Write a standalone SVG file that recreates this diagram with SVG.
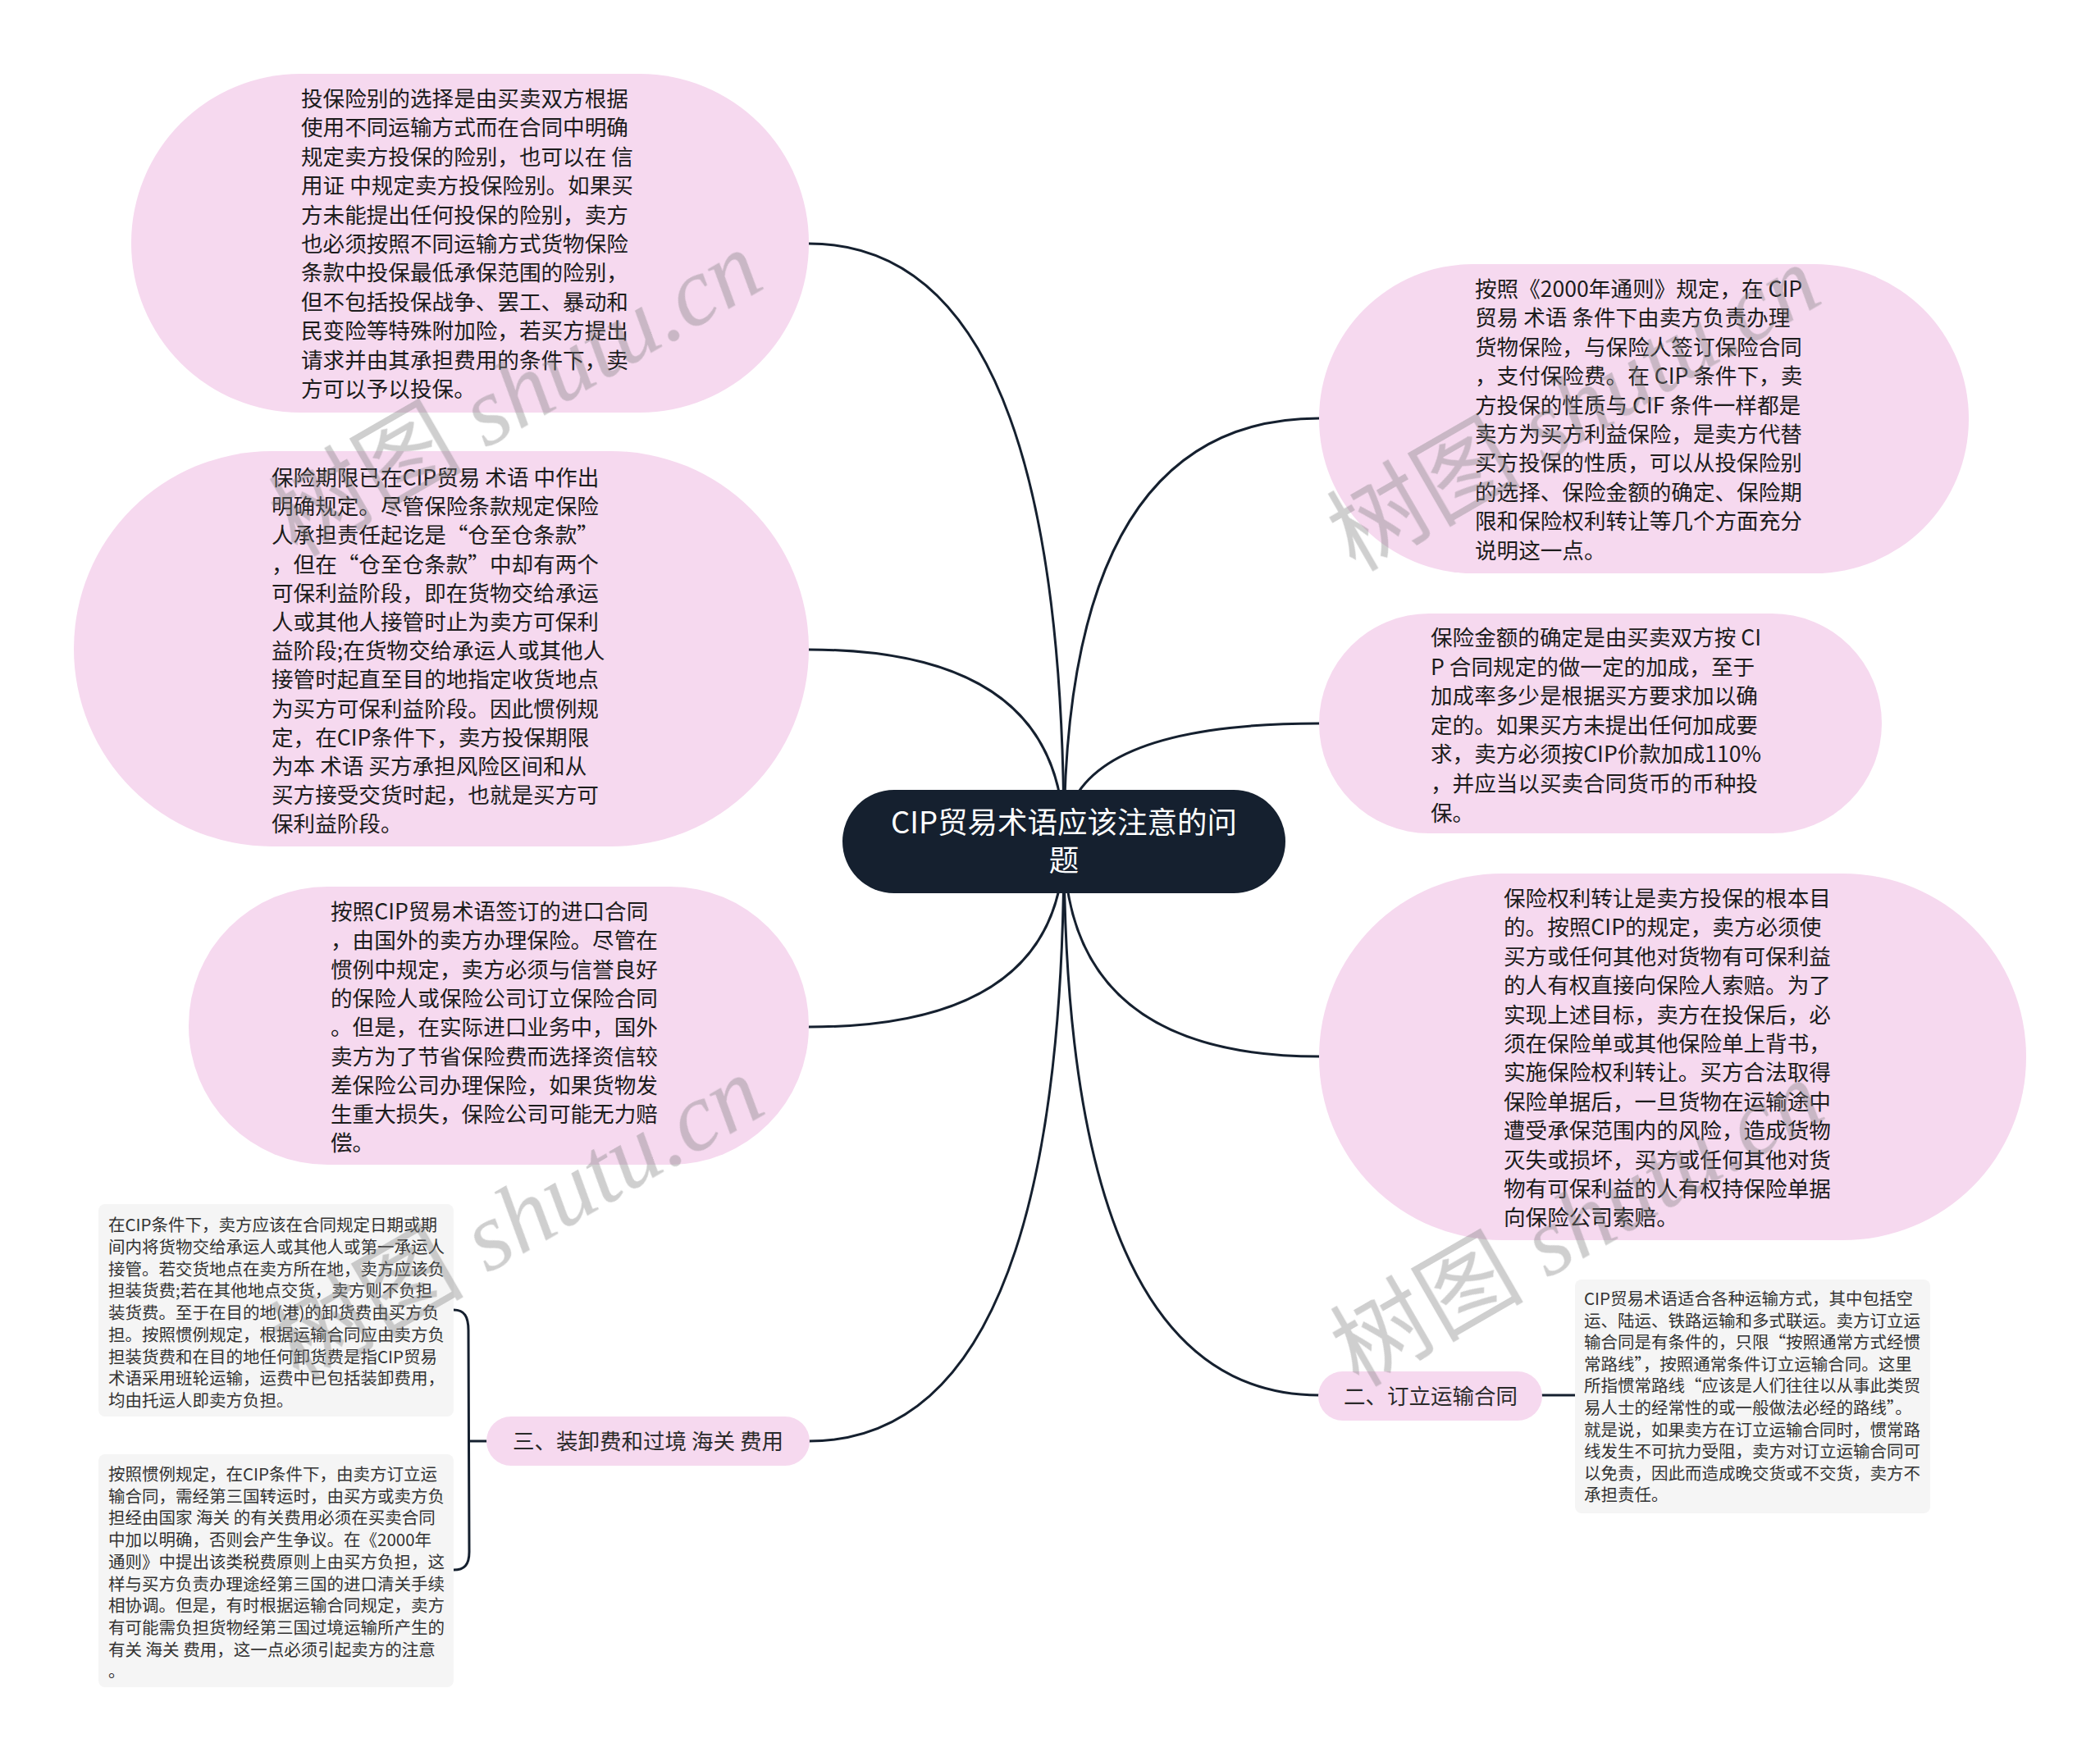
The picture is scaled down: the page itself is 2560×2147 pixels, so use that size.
<svg xmlns="http://www.w3.org/2000/svg" width="2560" height="2147" viewBox="0 0 2560 2147">
<defs>
<style>
.pink{fill:#f6d9ef;}
.leaf{fill:#f5f5f5;}
.root{fill:#15202f;}
.t{font-family:"Noto Sans CJK SC","Noto Sans",sans-serif;font-size:26.6px;fill:#1c1c1c;}
.lt{font-family:"Noto Sans CJK SC","Noto Sans",sans-serif;font-size:20.5px;fill:#333333;}
.bt{font-family:"Noto Sans CJK SC","Noto Sans",sans-serif;font-size:26.5px;fill:#2a2a2a;text-anchor:middle;}
.rt{font-family:"Noto Sans CJK SC","Noto Sans",sans-serif;font-size:36.5px;fill:#ffffff;text-anchor:middle;}
.c{fill:none;stroke:#15202f;stroke-width:3;stroke-linecap:round;}
.wm{font-size:118px;fill:#808080;opacity:0.38;}
.wc{font-family:"Noto Sans CJK SC",sans-serif;}
.wl{font-family:"Liberation Serif",serif;font-style:italic;}
</style>
</defs>
<rect width="2560" height="2147" fill="#ffffff"/>
<g id="connectors">
<path class="c" d="M1297,1026 Q1297,297 986,297"/>
<path class="c" d="M1297,1026 Q1297,792 986,792"/>
<path class="c" d="M1297,1026 Q1297,1252 986,1252"/>
<path class="c" d="M1297,1026 Q1297,1757 986,1757"/>
<path class="c" d="M1297,1026 Q1297,510 1608,510"/>
<path class="c" d="M1297,1026 Q1297,882 1608,882"/>
<path class="c" d="M1297,1026 Q1297,1288 1608,1288"/>
<path class="c" d="M1297,1026 Q1297,1701 1608,1701"/>
<path class="c" d="M593,1757 L572,1757"/>
<path class="c" d="M553,1597 C566,1597 571,1605 571,1622 L572,1892 C572,1908 566,1914 553,1914"/>
<path class="c" d="M1880,1701 L1920,1701"/>
</g>
<g id="root">
<rect class="root" x="1027" y="963" width="540" height="126" rx="63"/>
<text class="rt"><tspan x="1297" y="1016">CIP贸易术语应该注意的问</tspan><tspan x="1297" y="1062">题</tspan></text>
</g>
<g id="node1">
<rect class="pink" x="160" y="90" width="826" height="413" rx="206"/>
<text class="t" y="94.6"><tspan x="367" dy="35.4">投保险别的选择是由买卖双方根据</tspan><tspan x="367" dy="35.4">使用不同运输方式而在合同中明确</tspan><tspan x="367" dy="35.4">规定卖方投保的险别，也可以在 信</tspan><tspan x="367" dy="35.4">用证 中规定卖方投保险别。如果买</tspan><tspan x="367" dy="35.4">方未能提出任何投保的险别，卖方</tspan><tspan x="367" dy="35.4">也必须按照不同运输方式货物保险</tspan><tspan x="367" dy="35.4">条款中投保最低承保范围的险别，</tspan><tspan x="367" dy="35.4">但不包括投保战争、罢工、暴动和</tspan><tspan x="367" dy="35.4">民变险等特殊附加险，若买方提出</tspan><tspan x="367" dy="35.4">请求并由其承担费用的条件下，卖</tspan><tspan x="367" dy="35.4">方可以予以投保。</tspan></text>
</g>
<g id="node2">
<rect class="pink" x="90" y="550" width="896" height="482" rx="241"/>
<text class="t" y="556.8"><tspan x="331" dy="35.2">保险期限已在CIP贸易 术语 中作出</tspan><tspan x="331" dy="35.2">明确规定。尽管保险条款规定保险</tspan><tspan x="331" dy="35.2">人承担责任起讫是“仓至仓条款”</tspan><tspan x="331" dy="35.2">，但在“仓至仓条款”中却有两个</tspan><tspan x="331" dy="35.2">可保利益阶段，即在货物交给承运</tspan><tspan x="331" dy="35.2">人或其他人接管时止为卖方可保利</tspan><tspan x="331" dy="35.2">益阶段;在货物交给承运人或其他人</tspan><tspan x="331" dy="35.2">接管时起直至目的地指定收货地点</tspan><tspan x="331" dy="35.2">为买方可保利益阶段。因此惯例规</tspan><tspan x="331" dy="35.2">定，在CIP条件下，卖方投保期限</tspan><tspan x="331" dy="35.2">为本 术语 买方承担风险区间和从</tspan><tspan x="331" dy="35.2">买方接受交货时起，也就是买方可</tspan><tspan x="331" dy="35.2">保利益阶段。</tspan></text>
</g>
<g id="node3">
<rect class="pink" x="230" y="1081" width="756" height="339" rx="169"/>
<text class="t" y="1085.7"><tspan x="403" dy="35.3">按照CIP贸易术语签订的进口合同</tspan><tspan x="403" dy="35.3">，由国外的卖方办理保险。尽管在</tspan><tspan x="403" dy="35.3">惯例中规定，卖方必须与信誉良好</tspan><tspan x="403" dy="35.3">的保险人或保险公司订立保险合同</tspan><tspan x="403" dy="35.3">。但是，在实际进口业务中，国外</tspan><tspan x="403" dy="35.3">卖方为了节省保险费而选择资信较</tspan><tspan x="403" dy="35.3">差保险公司办理保险，如果货物发</tspan><tspan x="403" dy="35.3">生重大损失，保险公司可能无力赔</tspan><tspan x="403" dy="35.3">偿。</tspan></text>
</g>
<g id="node4">
<rect class="pink" x="1608" y="322" width="792" height="377" rx="188"/>
<text class="t" y="326.6"><tspan x="1798" dy="35.4">按照《2000年通则》规定，在 CIP</tspan><tspan x="1798" dy="35.4">贸易 术语 条件下由卖方负责办理</tspan><tspan x="1798" dy="35.4">货物保险，与保险人签订保险合同</tspan><tspan x="1798" dy="35.4">，支付保险费。在 CIP 条件下，卖</tspan><tspan x="1798" dy="35.4">方投保的性质与 CIF 条件一样都是</tspan><tspan x="1798" dy="35.4">卖方为买方利益保险，是卖方代替</tspan><tspan x="1798" dy="35.4">买方投保的性质，可以从投保险别</tspan><tspan x="1798" dy="35.4">的选择、保险金额的确定、保险期</tspan><tspan x="1798" dy="35.4">限和保险权利转让等几个方面充分</tspan><tspan x="1798" dy="35.4">说明这一点。</tspan></text>
</g>
<g id="node5">
<rect class="pink" x="1608" y="748" width="686" height="268" rx="134"/>
<text class="t" y="751.4"><tspan x="1744" dy="35.6">保险金额的确定是由买卖双方按 CI</tspan><tspan x="1744" dy="35.6">P 合同规定的做一定的加成，至于</tspan><tspan x="1744" dy="35.6">加成率多少是根据买方要求加以确</tspan><tspan x="1744" dy="35.6">定的。如果买方未提出任何加成要</tspan><tspan x="1744" dy="35.6">求，卖方必须按CIP价款加成110%</tspan><tspan x="1744" dy="35.6">，并应当以买卖合同货币的币种投</tspan><tspan x="1744" dy="35.6">保。</tspan></text>
</g>
<g id="node6">
<rect class="pink" x="1608" y="1065" width="862" height="447" rx="223"/>
<text class="t" y="1069.6"><tspan x="1833" dy="35.4">保险权利转让是卖方投保的根本目</tspan><tspan x="1833" dy="35.4">的。按照CIP的规定，卖方必须使</tspan><tspan x="1833" dy="35.4">买方或任何其他对货物有可保利益</tspan><tspan x="1833" dy="35.4">的人有权直接向保险人索赔。为了</tspan><tspan x="1833" dy="35.4">实现上述目标，卖方在投保后，必</tspan><tspan x="1833" dy="35.4">须在保险单或其他保险单上背书，</tspan><tspan x="1833" dy="35.4">实施保险权利转让。买方合法取得</tspan><tspan x="1833" dy="35.4">保险单据后，一旦货物在运输途中</tspan><tspan x="1833" dy="35.4">遭受承保范围内的风险，造成货物</tspan><tspan x="1833" dy="35.4">灭失或损坏，买方或任何其他对货</tspan><tspan x="1833" dy="35.4">物有可保利益的人有权持保险单据</tspan><tspan x="1833" dy="35.4">向保险公司索赔。</tspan></text>
</g>
<g id="branch3">
<rect class="pink" x="593" y="1727" width="394" height="60" rx="30"/>
<text class="bt" x="790" y="1767">三、装卸费和过境 海关 费用</text>
</g>
<g id="branch2">
<rect class="pink" x="1607" y="1672" width="273" height="60" rx="30"/>
<text class="bt" x="1744" y="1712">二、订立运输合同</text>
</g>
<g id="leafA">
<rect class="leaf" x="120" y="1468" width="433" height="259" rx="8"/>
<text class="lt" y="1474.25"><tspan x="132" dy="26.75">在CIP条件下，卖方应该在合同规定日期或期</tspan><tspan x="132" dy="26.75">间内将货物交给承运人或其他人或第一承运人</tspan><tspan x="132" dy="26.75">接管。若交货地点在卖方所在地，卖方应该负</tspan><tspan x="132" dy="26.75">担装货费;若在其他地点交货，卖方则不负担</tspan><tspan x="132" dy="26.75">装货费。至于在目的地(港)的卸货费由买方负</tspan><tspan x="132" dy="26.75">担。按照惯例规定，根据运输合同应由卖方负</tspan><tspan x="132" dy="26.75">担装货费和在目的地任何卸货费是指CIP贸易</tspan><tspan x="132" dy="26.75">术语采用班轮运输，运费中已包括装卸费用，</tspan><tspan x="132" dy="26.75">均由托运人即卖方负担。</tspan></text>
</g>
<g id="leafB">
<rect class="leaf" x="120" y="1773" width="433" height="284" rx="8"/>
<text class="lt" y="1778.3"><tspan x="132" dy="26.7">按照惯例规定，在CIP条件下，由卖方订立运</tspan><tspan x="132" dy="26.7">输合同，需经第三国转运时，由买方或卖方负</tspan><tspan x="132" dy="26.7">担经由国家 海关 的有关费用必须在买卖合同</tspan><tspan x="132" dy="26.7">中加以明确，否则会产生争议。在《2000年</tspan><tspan x="132" dy="26.7">通则》中提出该类税费原则上由买方负担，这</tspan><tspan x="132" dy="26.7">样与买方负责办理途经第三国的进口清关手续</tspan><tspan x="132" dy="26.7">相协调。但是，有时根据运输合同规定，卖方</tspan><tspan x="132" dy="26.7">有可能需负担货物经第三国过境运输所产生的</tspan><tspan x="132" dy="26.7">有关 海关 费用，这一点必须引起卖方的注意</tspan><tspan x="132" dy="26.7">。</tspan></text>
</g>
<g id="leafC">
<rect class="leaf" x="1920" y="1560" width="433" height="285" rx="8"/>
<text class="lt" y="1564.4"><tspan x="1931" dy="26.6">CIP贸易术语适合各种运输方式，其中包括空</tspan><tspan x="1931" dy="26.6">运、陆运、铁路运输和多式联运。卖方订立运</tspan><tspan x="1931" dy="26.6">输合同是有条件的，只限“按照通常方式经惯</tspan><tspan x="1931" dy="26.6">常路线”，按照通常条件订立运输合同。这里</tspan><tspan x="1931" dy="26.6">所指惯常路线“应该是人们往往以从事此类贸</tspan><tspan x="1931" dy="26.6">易人士的经常性的或一般做法必经的路线”。</tspan><tspan x="1931" dy="26.6">就是说，如果卖方在订立运输合同时，惯常路</tspan><tspan x="1931" dy="26.6">线发生不可抗力受阻，卖方对订立运输合同可</tspan><tspan x="1931" dy="26.6">以免责，因此而造成晚交货或不交货，卖方不</tspan><tspan x="1931" dy="26.6">承担责任。</tspan></text>
</g>
<g id="watermarks" class="wm">
<text transform="translate(362,680) rotate(-30)"><tspan class="wc">树图</tspan><tspan class="wl"> shutu.cn</tspan></text>
<text transform="translate(364,1686) rotate(-30)"><tspan class="wc">树图</tspan><tspan class="wl"> shutu.cn</tspan></text>
<text transform="translate(1652,698) rotate(-30)"><tspan class="wc">树图</tspan><tspan class="wl"> shutu.cn</tspan></text>
<text transform="translate(1656,1692) rotate(-30)"><tspan class="wc">树图</tspan><tspan class="wl"> shutu.cn</tspan></text>
</g>
</svg>
